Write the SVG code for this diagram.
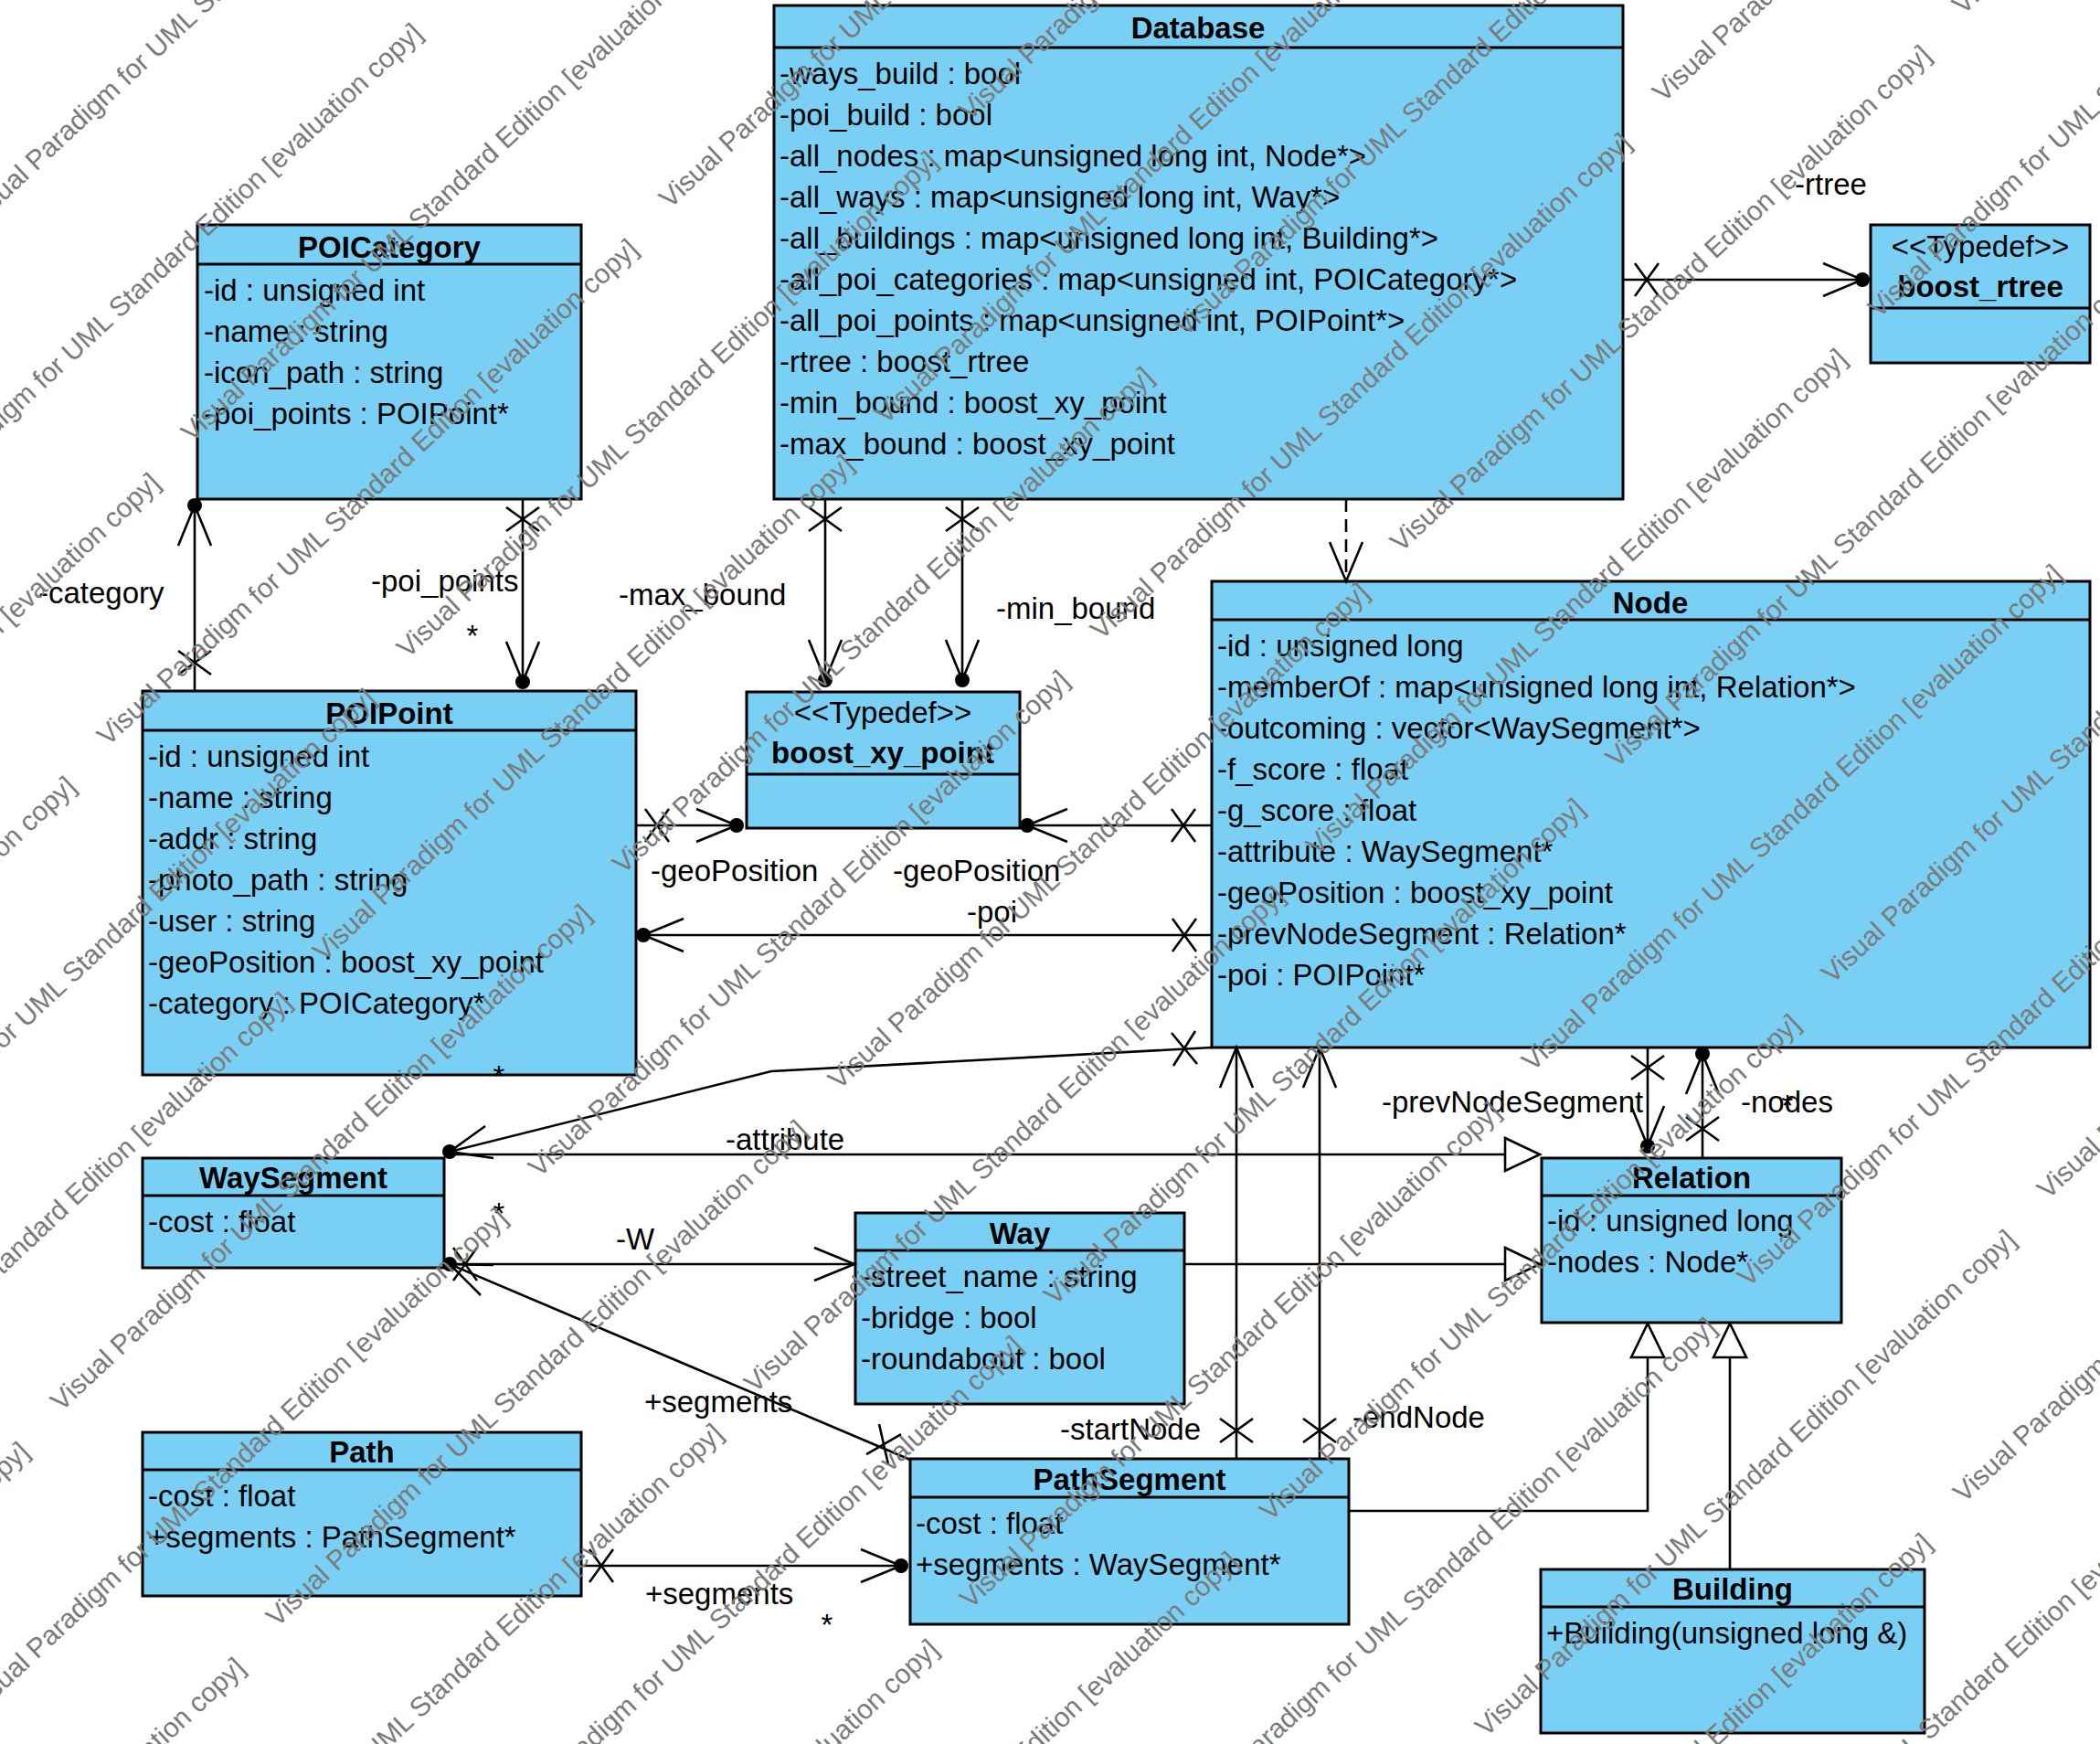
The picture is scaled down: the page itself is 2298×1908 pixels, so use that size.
<svg xmlns="http://www.w3.org/2000/svg" width="2298" height="1908" viewBox="0 0 2298 1908">
<style>
.box{fill:#7acff5;stroke:#000;stroke-width:3}
.sep{stroke:#000;stroke-width:3}
.t{font-family:"Liberation Sans",Arial,sans-serif;font-size:33px;fill:#000}
.b{font-weight:bold;text-anchor:middle}
.c{text-anchor:middle}
.ln{fill:none;stroke:#000;stroke-width:2.6}
.dash{stroke-dasharray:14,8}
.dot{fill:#000}
.tri{fill:#fff;stroke:#000;stroke-width:2.6}
.wm{font-family:"Liberation Sans",Arial,sans-serif;font-size:30px;fill:#7a7a7a}
</style>
<defs>
<text id="wm" class="wm" x="0" y="0">Visual Paradigm for UML Standard Edition [evaluation copy]</text>
</defs>
<rect x="0" y="0" width="2298" height="1908" fill="#fff"/>

<g id="Database">
<rect class="box" x="847" y="6" width="929" height="540"/>
<line class="sep" x1="847" y1="52" x2="1776" y2="52"/>
<text class="t b" x="1311" y="42">Database</text>
<text class="t" x="853" y="92">-ways_build : bool</text>
<text class="t" x="853" y="137">-poi_build : bool</text>
<text class="t" x="853" y="182">-all_nodes : map&lt;unsigned long int, Node*&gt;</text>
<text class="t" x="853" y="227">-all_ways : map&lt;unsigned long int, Way*&gt;</text>
<text class="t" x="853" y="272">-all_buildings : map&lt;unsigned long int, Building*&gt;</text>
<text class="t" x="853" y="317">-all_poi_categories : map&lt;unsigned int, POICategory*&gt;</text>
<text class="t" x="853" y="362">-all_poi_points : map&lt;unsigned int, POIPoint*&gt;</text>
<text class="t" x="853" y="407">-rtree : boost_rtree</text>
<text class="t" x="853" y="452">-min_bound : boost_xy_point</text>
<text class="t" x="853" y="497">-max_bound : boost_xy_point</text>
</g>

<g id="POICategory">
<rect class="box" x="216" y="246" width="420" height="300"/>
<line class="sep" x1="216" y1="289" x2="636" y2="289"/>
<text class="t b" x="426" y="282">POICategory</text>
<text class="t" x="223" y="329">-id : unsigned int</text>
<text class="t" x="223" y="374">-name : string</text>
<text class="t" x="223" y="419">-icon_path : string</text>
<text class="t" x="223" y="464">-poi_points : POIPoint*</text>
</g>

<g id="boost_rtree">
<rect class="box" x="2047" y="246" width="240" height="151"/>
<line class="sep" x1="2047" y1="337" x2="2287" y2="337"/>
<text class="t c" x="2167" y="281">&lt;&lt;Typedef&gt;&gt;</text>
<text class="t b" x="2167" y="325">boost_rtree</text>
</g>

<g id="POIPoint">
<rect class="box" x="156" y="756" width="540" height="420"/>
<line class="sep" x1="156" y1="799" x2="696" y2="799"/>
<text class="t b" x="426" y="792">POIPoint</text>
<text class="t" x="162" y="839">-id : unsigned int</text>
<text class="t" x="162" y="884">-name : string</text>
<text class="t" x="162" y="929">-addr : string</text>
<text class="t" x="162" y="974">-photo_path : string</text>
<text class="t" x="162" y="1019">-user : string</text>
<text class="t" x="162" y="1064">-geoPosition : boost_xy_point</text>
<text class="t" x="162" y="1109">-category : POICategory*</text>
</g>

<g id="boost_xy_point">
<rect class="box" x="817" y="757" width="299" height="149"/>
<line class="sep" x1="817" y1="847" x2="1116" y2="847"/>
<text class="t c" x="966" y="791">&lt;&lt;Typedef&gt;&gt;</text>
<text class="t b" x="966" y="835">boost_xy_point</text>
</g>

<g id="Node">
<rect class="box" x="1326" y="636" width="961" height="510"/>
<line class="sep" x1="1326" y1="678" x2="2287" y2="678"/>
<text class="t b" x="1806" y="671">Node</text>
<text class="t" x="1332" y="718">-id : unsigned long</text>
<text class="t" x="1332" y="763">-memberOf : map&lt;unsigned long int, Relation*&gt;</text>
<text class="t" x="1332" y="808">-outcoming : vector&lt;WaySegment*&gt;</text>
<text class="t" x="1332" y="853">-f_score : float</text>
<text class="t" x="1332" y="898">-g_score : float</text>
<text class="t" x="1332" y="943">-attribute : WaySegment*</text>
<text class="t" x="1332" y="988">-geoPosition : boost_xy_point</text>
<text class="t" x="1332" y="1033">-prevNodeSegment : Relation*</text>
<text class="t" x="1332" y="1078">-poi : POIPoint*</text>
</g>

<g id="WaySegment">
<rect class="box" x="156" y="1267" width="330" height="120"/>
<line class="sep" x1="156" y1="1308" x2="486" y2="1308"/>
<text class="t b" x="321" y="1300">WaySegment</text>
<text class="t" x="162" y="1348">-cost : float</text>
</g>

<g id="Way">
<rect class="box" x="936" y="1327" width="360" height="209"/>
<line class="sep" x1="936" y1="1368" x2="1296" y2="1368"/>
<text class="t b" x="1116" y="1361">Way</text>
<text class="t" x="942" y="1408">-street_name : string</text>
<text class="t" x="942" y="1453">-bridge : bool</text>
<text class="t" x="942" y="1498">-roundabout : bool</text>
</g>

<g id="Relation">
<rect class="box" x="1687" y="1267" width="328" height="180"/>
<line class="sep" x1="1687" y1="1308" x2="2015" y2="1308"/>
<text class="t b" x="1851" y="1300">Relation</text>
<text class="t" x="1693" y="1347">-id : unsigned long</text>
<text class="t" x="1693" y="1392">-nodes : Node*</text>
</g>

<g id="Path">
<rect class="box" x="156" y="1567" width="480" height="179"/>
<line class="sep" x1="156" y1="1608" x2="636" y2="1608"/>
<text class="t b" x="396" y="1600">Path</text>
<text class="t" x="162" y="1648">-cost : float</text>
<text class="t" x="162" y="1693">+segments : PathSegment*</text>
</g>

<g id="PathSegment">
<rect class="box" x="996" y="1596" width="480" height="181"/>
<line class="sep" x1="996" y1="1638" x2="1476" y2="1638"/>
<text class="t b" x="1236" y="1630">PathSegment</text>
<text class="t" x="1002" y="1678">-cost : float</text>
<text class="t" x="1002" y="1723">+segments : WaySegment*</text>
</g>

<g id="Building">
<rect class="box" x="1686" y="1717" width="420" height="179"/>
<line class="sep" x1="1686" y1="1758" x2="2106" y2="1758"/>
<text class="t b" x="1896" y="1750">Building</text>
<text class="t" x="1692" y="1798">+Building(unsigned long &amp;)</text>
</g>

<g id="connectors">
<line class="ln" x1="1776" y1="306" x2="2038" y2="306"/>
<line class="ln" x1="213" y1="756" x2="213" y2="553"/>
<line class="ln" x1="572" y1="546" x2="572" y2="746"/>
<line class="ln" x1="903" y1="546" x2="903" y2="744"/>
<line class="ln" x1="1053" y1="546" x2="1053" y2="744"/>
<line class="ln" x1="696" y1="903" x2="806" y2="903"/>
<line class="ln" x1="1326" y1="903" x2="1124" y2="903"/>
<line class="ln" x1="1326" y1="1023" x2="704" y2="1023"/>
<line class="ln dash" x1="1473" y1="546" x2="1473" y2="634"/>
<polyline class="ln" points="1326,1146 844,1172 492,1260"/>
<line class="ln" x1="492" y1="1263" x2="1647" y2="1263"/>
<line class="ln" x1="1296" y1="1383" x2="1647" y2="1383"/>
<line class="ln" x1="492" y1="1383" x2="935" y2="1383"/>
<line class="ln" x1="996" y1="1597" x2="492" y2="1383"/>
<line class="ln" x1="1353" y1="1596" x2="1353" y2="1146"/>
<line class="ln" x1="1444" y1="1596" x2="1444" y2="1146"/>
<polyline class="ln" points="1476,1653 1803,1653 1803,1485"/>
<line class="ln" x1="1893" y1="1717" x2="1893" y2="1485"/>
<line class="ln" x1="636" y1="1713" x2="986" y2="1713"/>
<line class="ln" x1="1803" y1="1146" x2="1803" y2="1254"/>
<line class="ln" x1="1863" y1="1267" x2="1863" y2="1153"/>
<polyline class="ln" points="1995,288 2038,306 1995,324"/>
<polyline class="ln" points="195,597 213,553 231,597"/>
<polyline class="ln" points="554,702 572,746 590,702"/>
<polyline class="ln" points="885,700 903,744 921,700"/>
<polyline class="ln" points="1035,700 1053,744 1071,700"/>
<polyline class="ln" points="762,885 806,903 762,921"/>
<polyline class="ln" points="1168,885 1124,903 1168,921"/>
<polyline class="ln" points="748,1005 704,1023 748,1041"/>
<polyline class="ln" points="531,1232 492,1260 540,1267"/>
<polyline class="ln" points="540,1384 492,1383 526,1417"/>
<polyline class="ln" points="891,1365 935,1383 891,1401"/>
<polyline class="ln" points="942,1695 986,1713 942,1731"/>
<polyline class="ln" points="1785,1210 1803,1254 1821,1210"/>
<polyline class="ln" points="1845,1197 1863,1153 1881,1197"/>
<polyline class="ln" points="1335,1190 1353,1146 1371,1190"/>
<polyline class="ln" points="1426,1190 1444,1146 1462,1190"/>
<polyline class="ln" points="1455,593 1473,636 1491,593"/>
<circle class="dot" cx="2038" cy="306" r="8"/>
<circle class="dot" cx="213" cy="553" r="8"/>
<circle class="dot" cx="572" cy="746" r="8"/>
<circle class="dot" cx="903" cy="744" r="8"/>
<circle class="dot" cx="1053" cy="744" r="8"/>
<circle class="dot" cx="806" cy="903" r="8"/>
<circle class="dot" cx="1124" cy="903" r="8"/>
<circle class="dot" cx="704" cy="1023" r="8"/>
<circle class="dot" cx="492" cy="1260" r="8"/>
<circle class="dot" cx="492" cy="1383" r="8"/>
<circle class="dot" cx="986" cy="1713" r="8"/>
<circle class="dot" cx="1803" cy="1254" r="8"/>
<circle class="dot" cx="1863" cy="1153" r="8"/>
<path class="ln" d="M1789,288L1815,324M1789,324L1815,288"/>
<path class="ln" d="M195,712L231,738M195,738L231,712"/>
<path class="ln" d="M554,555L590,581M554,581L590,555"/>
<path class="ln" d="M885,555L921,581M885,581L921,555"/>
<path class="ln" d="M1035,555L1071,581M1035,581L1071,555"/>
<path class="ln" d="M706,885L732,921M706,921L732,885"/>
<path class="ln" d="M1282,885L1308,921M1282,921L1308,885"/>
<path class="ln" d="M1283,1005L1309,1041M1283,1041L1309,1005"/>
<path class="ln" d="M1282,1130L1310,1164M1284,1166L1308,1128"/>
<path class="ln" d="M496,1365L522,1401M496,1401L522,1365"/>
<path class="ln" d="M645,1695L671,1731M645,1731L671,1695"/>
<path class="ln" d="M962,1558L972,1602M948,1591L986,1569"/>
<path class="ln" d="M1335,1552L1371,1578M1335,1578L1371,1552"/>
<path class="ln" d="M1426,1552L1462,1578M1426,1578L1462,1552"/>
<path class="ln" d="M1785,1155L1821,1181M1785,1181L1821,1155"/>
<path class="ln" d="M1845,1222L1881,1248M1845,1248L1881,1222"/>
<polygon class="tri" points="1647,1245 1685,1263 1647,1281"/>
<polygon class="tri" points="1647,1365 1685,1383 1647,1401"/>
<polygon class="tri" points="1785,1485 1803,1448 1821,1485"/>
<polygon class="tri" points="1875,1485 1893,1448 1911,1485"/>
<text class="t" x="1964" y="213">-rtree</text>
<text class="t" x="42" y="660">-category</text>
<text class="t" x="406" y="647">-poi_points</text>
<text class="t c" x="517" y="707">*</text>
<text class="t" x="677" y="662">-max_bound</text>
<text class="t" x="1090" y="677">-min_bound</text>
<text class="t" x="712" y="964">-geoPosition</text>
<text class="t" x="977" y="964">-geoPosition</text>
<text class="t" x="1058" y="1009">-poi</text>
<text class="t c" x="546" y="1189">*</text>
<text class="t" x="794" y="1258">-attribute</text>
<text class="t" x="1512" y="1217">-prevNodeSegment</text>
<text class="t" x="1905" y="1217">-nodes</text>
<text class="t c" x="1956" y="1221">*</text>
<text class="t c" x="546" y="1339">*</text>
<text class="t" x="674" y="1367">-W</text>
<text class="t" x="705" y="1545">+segments</text>
<text class="t" x="706" y="1755">+segments</text>
<text class="t c" x="905" y="1789">*</text>
<text class="t" x="1160" y="1575">-startNode</text>
<text class="t" x="1480" y="1562">-endNode</text>
</g>

<g id="watermark">
<use href="#wm" transform="translate(-26,249) rotate(-43)"/>
<use href="#wm" transform="translate(-118,581) rotate(-43)"/>
<use href="#wm" transform="translate(210,485) rotate(-43)"/>
<use href="#wm" transform="translate(-405,1073) rotate(-43)"/>
<use href="#wm" transform="translate(118,817) rotate(-43)"/>
<use href="#wm" transform="translate(-497,1405) rotate(-43)"/>
<use href="#wm" transform="translate(733,229) rotate(-43)"/>
<use href="#wm" transform="translate(446,721) rotate(-43)"/>
<use href="#wm" transform="translate(-169,1309) rotate(-43)"/>
<use href="#wm" transform="translate(1061,133) rotate(-43)"/>
<use href="#wm" transform="translate(354,1053) rotate(-43)"/>
<use href="#wm" transform="translate(-261,1641) rotate(-43)"/>
<use href="#wm" transform="translate(969,465) rotate(-43)"/>
<use href="#wm" transform="translate(682,957) rotate(-43)"/>
<use href="#wm" transform="translate(67,1545) rotate(-43)"/>
<use href="#wm" transform="translate(1297,369) rotate(-43)"/>
<use href="#wm" transform="translate(-548,2133) rotate(-43)"/>
<use href="#wm" transform="translate(590,1289) rotate(-43)"/>
<use href="#wm" transform="translate(-25,1877) rotate(-43)"/>
<use href="#wm" transform="translate(1205,701) rotate(-43)"/>
<use href="#wm" transform="translate(1820,113) rotate(-43)"/>
<use href="#wm" transform="translate(918,1193) rotate(-43)"/>
<use href="#wm" transform="translate(303,1781) rotate(-43)"/>
<use href="#wm" transform="translate(1533,605) rotate(-43)"/>
<use href="#wm" transform="translate(2148,17) rotate(-43)"/>
<use href="#wm" transform="translate(-312,2369) rotate(-43)"/>
<use href="#wm" transform="translate(826,1525) rotate(-43)"/>
<use href="#wm" transform="translate(211,2113) rotate(-43)"/>
<use href="#wm" transform="translate(1441,937) rotate(-43)"/>
<use href="#wm" transform="translate(2056,349) rotate(-43)"/>
<use href="#wm" transform="translate(1154,1429) rotate(-43)"/>
<use href="#wm" transform="translate(539,2017) rotate(-43)"/>
<use href="#wm" transform="translate(1769,841) rotate(-43)"/>
<use href="#wm" transform="translate(1062,1761) rotate(-43)"/>
<use href="#wm" transform="translate(1677,1173) rotate(-43)"/>
<use href="#wm" transform="translate(447,2349) rotate(-43)"/>
<use href="#wm" transform="translate(1390,1665) rotate(-43)"/>
<use href="#wm" transform="translate(2005,1077) rotate(-43)"/>
<use href="#wm" transform="translate(775,2253) rotate(-43)"/>
<use href="#wm" transform="translate(1298,1997) rotate(-43)"/>
<use href="#wm" transform="translate(1913,1409) rotate(-43)"/>
<use href="#wm" transform="translate(1626,1901) rotate(-43)"/>
<use href="#wm" transform="translate(2241,1313) rotate(-43)"/>
<use href="#wm" transform="translate(1534,2233) rotate(-43)"/>
<use href="#wm" transform="translate(2149,1645) rotate(-43)"/>
<use href="#wm" transform="translate(1862,2137) rotate(-43)"/>
</g>
</svg>
